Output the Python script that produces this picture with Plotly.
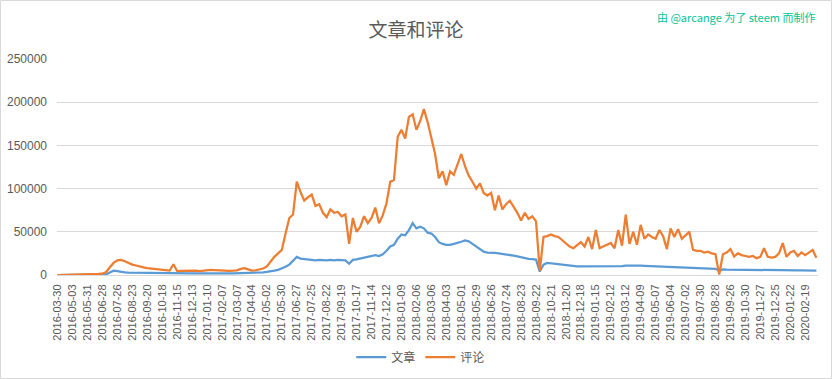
import plotly.graph_objects as go

# Tick labels (category axis, one label every 28 categories)
tick_labels = [
    "2016-03-30", "2016-05-03", "2016-05-31", "2016-06-28", "2016-07-26", "2016-08-23",
    "2016-09-20", "2016-10-18", "2016-11-15", "2016-12-13", "2017-01-10", "2017-02-07",
    "2017-03-07", "2017-04-04", "2017-05-02", "2017-05-30", "2017-06-27", "2017-07-25",
    "2017-08-22", "2017-09-19", "2017-10-17", "2017-11-14", "2017-12-12", "2018-01-09",
    "2018-02-06", "2018-03-06", "2018-04-03", "2018-05-01", "2018-05-29", "2018-06-26",
    "2018-07-24", "2018-08-23", "2018-09-22", "2018-10-21", "2018-11-20", "2018-12-18",
    "2019-01-15", "2019-02-12", "2019-03-12", "2019-04-09", "2019-05-07", "2019-06-04",
    "2019-07-02", "2019-07-30", "2019-08-28", "2019-09-26", "2019-10-30", "2019-11-27",
    "2019-12-25", "2020-01-22", "2020-02-19",
]
TICK_STEP = 28      # categories between labels
SAMPLE_STEP = 7     # categories between sampled values

# 文章 (posts), sampled every 7 categories
posts = [
    0, 20, 40, 60, 80, 100, 120, 150, 150, 180, 200, 250,
    300, 800, 3000, 5000, 4500, 3500, 3000, 2800, 2700, 2600, 2500, 2400,
    2300, 2200, 2200, 2100, 2000, 1900, 1900, 2000, 1800, 1800, 1900, 1900,
    1900, 2000, 1900, 1900, 1900, 1900, 1800, 1800, 1800, 1800, 1900, 1900,
    2000, 2300, 2400, 2200, 2000, 2200, 2500, 3000, 3500, 4000, 5000, 6000,
    7500, 9500, 12000, 17000, 21000, 19000, 18500, 18000, 17500, 17000, 17500, 17000,
    17000, 17500, 17000, 17500, 17500, 17000, 13000, 17500, 18000, 19000, 20000, 21000,
    22000, 23000, 22000, 24000, 28000, 33000, 35000, 42000, 47000, 46000, 52000, 60000,
    54000, 56000, 54000, 49000, 48000, 44000, 38000, 36000, 35000, 35000, 36000, 37000,
    38500, 40000, 39000, 36000, 33000, 30000, 27000, 26000, 26000, 25500, 25000, 24500,
    24000, 23500, 22500, 21500, 20500, 19500, 18800, 18500, 17800, 4000, 12000, 14000,
    13500, 13000, 12500, 12000, 11000, 10500, 10200, 10000, 10000, 10000, 9800, 9800,
    9700, 9600, 9600, 9500, 9500, 9700, 10000, 10300, 10800, 11000, 11000, 10900,
    10800, 10700, 10500, 10400, 10300, 10200, 10000, 9800, 9600, 9500, 9300, 9200,
    9000, 8800, 8600, 8500, 8300, 8200, 8000, 7800, 7200, 5000, 6500, 6300,
    6200, 6100, 6000, 6000, 5900, 5800, 5800, 5700, 5700, 5600, 5600, 5500,
    5500, 5500, 5600, 5500, 5400, 5400, 5300, 5300, 5200, 5100, 5000, 5000,
]

# 评论 (comments), sampled every 7 categories
comments = [
    0, 50, 100, 200, 400, 600, 700, 800, 900, 1000, 1100, 1200,
    1500, 3500, 9000, 14000, 17000, 17500, 16000, 14000, 12000, 11000, 9500, 8800,
    8000, 7500, 7000, 6500, 6000, 5500, 5200, 12500, 4500, 4800, 5000, 4600,
    5500, 5000, 4500, 5200, 5500, 6000, 5700, 5300, 5500, 5200, 4800, 5000,
    5300, 7000, 8000, 6500, 5000, 5500, 6500, 7500, 10000, 16000, 21000, 25000,
    29000, 48000, 66000, 70000, 108000, 96000, 86000, 90000, 93000, 80000, 82000, 72000,
    67000, 76000, 72000, 73000, 68000, 70000, 36000, 66000, 50000, 56000, 68000, 60000,
    66000, 78000, 60000, 69000, 83000, 108000, 110000, 160000, 168000, 158000, 183000, 186000,
    168000, 178000, 192000, 177000, 158000, 140000, 112000, 120000, 104000, 120000, 116000, 128000,
    140000, 126000, 115000, 108000, 100000, 106000, 95000, 92000, 95000, 75000, 92000, 76000,
    82000, 86000, 79000, 72000, 63000, 72000, 65000, 68000, 62000, 5000, 44000, 45000,
    47000, 45000, 44000, 40000, 37000, 33000, 31000, 34000, 38000, 33000, 44000, 30000,
    52000, 31000, 33000, 35000, 37000, 31000, 52000, 34000, 70000, 36000, 50000, 35000,
    58000, 42000, 47000, 44000, 42000, 52000, 45000, 30000, 54000, 44000, 53000, 42000,
    46000, 50000, 29000, 28000, 28000, 26000, 27000, 25000, 24000, 500, 24000, 26000,
    30000, 21500, 25000, 23000, 22000, 21000, 22000, 19500, 21000, 31000, 21000, 20000,
    21000, 25000, 37000, 21000, 26000, 28000, 22000, 26000, 23000, 26000, 29000, 20000,
]

y_ticks = [0, 50000, 100000, 150000, 200000, 250000]

x_idx = [i * SAMPLE_STEP for i in range(len(comments))]
tick_pos = [i * TICK_STEP for i in range(len(tick_labels))]

FONT = "Liberation Sans, Noto Sans CJK SC, sans-serif"
GRAY = "#595959"

fig = go.Figure()
fig.add_trace(go.Scatter(x=x_idx, y=posts, mode="lines", name="文章",
                         line=dict(color="#5b9bd5", width=2.25)))
fig.add_trace(go.Scatter(x=x_idx, y=comments, mode="lines", name="评论",
                         line=dict(color="#ed7d31", width=2.25)))

fig.update_layout(
    width=832, height=379,
    margin=dict(l=57, r=14, t=59, b=104, autoexpand=False),
    paper_bgcolor="white", plot_bgcolor="white",
    font=dict(family=FONT, color=GRAY, size=12),
    title=dict(text="文章和评论", x=0.5, xanchor="center", y=1 - 30 / 379, yanchor="middle",
               font=dict(size=19, color=GRAY, family="Noto Sans CJK SC, sans-serif")),
    showlegend=True,
    legend=dict(orientation="h", x=0.478, xanchor="center", y=-82 / 216, yanchor="middle",
                font=dict(size=12, color=GRAY, family="Noto Sans CJK SC, sans-serif"),
                itemwidth=30, bgcolor="rgba(0,0,0,0)"),
    xaxis=dict(range=[-1, 1424], tickmode="array", tickvals=tick_pos, ticktext=tick_labels,
               tickangle=-90, tickfont=dict(size=11, color=GRAY), showgrid=False,
               showline=True, linecolor="#d9d9d9", linewidth=1, zeroline=False,
               ticks="", ticklabelstandoff=4, automargin=False),
    yaxis=dict(range=[0, 250000], tickmode="array", tickvals=y_ticks,
               ticktext=[str(v) for v in y_ticks], tickfont=dict(size=12, color=GRAY),
               showgrid=True, gridcolor="#d9d9d9", gridwidth=1, zeroline=False,
               showline=False, ticks="", ticklabelstandoff=9, automargin=False),
    annotations=[dict(text="由 @arcange 为了 steem 而制作", xref="paper", yref="paper",
                      x=0.999, xanchor="right", y=1 + 42 / 216, yanchor="middle",
                      showarrow=False,
                      font=dict(size=11, color="#00c49a", family="Noto Sans CJK SC, sans-serif"))],
    shapes=[dict(type="rect", xref="paper", yref="paper",
                 x0=(0.5 - 57) / 761, x1=(831.5 - 57) / 761,
                 y0=(275 - 378.5) / 216, y1=(275 - 0.5) / 216,
                 line=dict(color="#d9d9d9", width=1), fillcolor="rgba(0,0,0,0)", layer="below")],
)

fig.write_html("out.html", config={"displayModeBar": False},
               post_script="document.body.style.margin='0';document.body.style.overflow='hidden';")
